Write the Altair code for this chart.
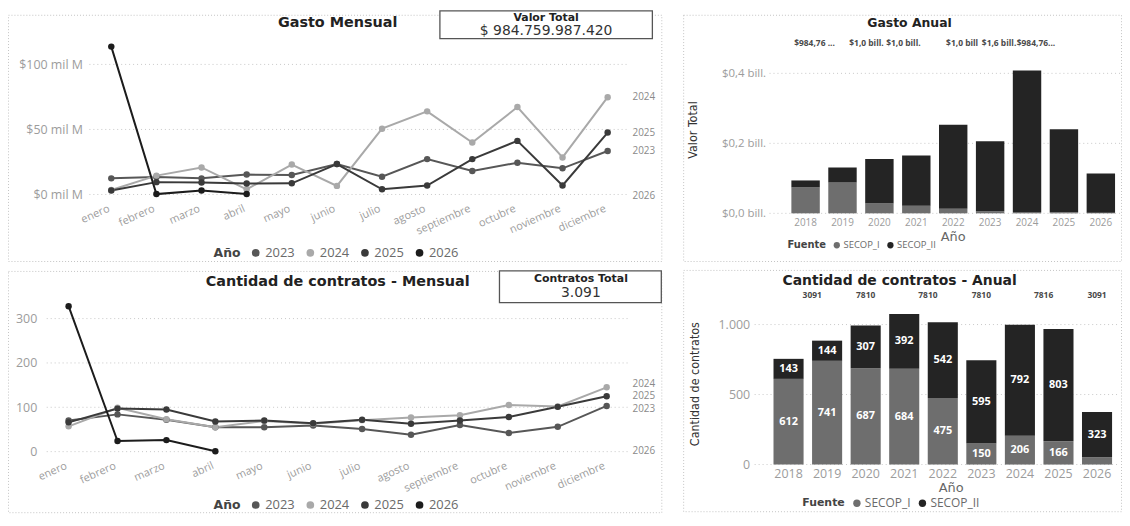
import altair as alt
import pandas as pd

# ---------------- data ----------------
meses = ["enero", "febrero", "marzo", "abril", "mayo", "junio", "julio",
         "agosto", "septiembre", "octubre", "noviembre", "diciembre"]
anios_linea = ["2023", "2024", "2025", "2026"]

# Gasto mensual (mil M)
gasto_2023 = [12.4, 13.5, 12.4, 15.3, 15.0, 23.4, 13.7, 27.2, 18.1, 24.4, 20.1, 33.4]
gasto_2024 = [3.5, 14.5, 20.8, 4.0, 23.0, 6.6, 50.6, 63.9, 40.0, 67.2, 28.5, 74.8]
gasto_2025 = [3.0, 9.5, 9.2, 8.4, 8.6, 23.4, 4.0, 6.9, 27.2, 41.2, 6.9, 47.6]
gasto_2026 = [113.7, 0.3, 3.0, 0.3]

# Cantidad de contratos mensual
contratos_2023 = [70, 84, 72, 55, 55, 59, 51, 38, 60, 42, 56, 103]
contratos_2024 = [57, 99, 73, 55, 69, 63, 71, 77, 82, 105, 102, 145]
contratos_2025 = [66, 97, 95, 68, 70, 64, 72, 63, 70, 78, 101, 125]
contratos_2026 = [328, 24, 26, 1]

# Anual
anios_barra = ["2018", "2019", "2020", "2021", "2022", "2023", "2024", "2025", "2026"]
fuentes = ["SECOP_I", "SECOP_II"]
gasto_secop_i = [0.074, 0.088, 0.029, 0.022, 0.013, 0.005, 0.004, 0.003, 0.002]
gasto_secop_ii = [0.020, 0.043, 0.126, 0.143, 0.240, 0.201, 0.404, 0.237, 0.112]
contratos_secop_i = [612, 741, 687, 684, 475, 150, 206, 166, 52]
contratos_secop_ii = [143, 144, 307, 392, 542, 595, 792, 803, 323]

etiquetas_gasto_anual = ["$984,76 ...", "$1,0 bill.", "$1,0 bill.", "$1,0 bill", "$1,6 bill.", "$984,76..."]
anios_etiquetas_gasto = ["2018", "2020", "2021", "2022", "2023", "2024"]
etiquetas_contratos_anual = ["3091", "7810", "7810", "7810", "7816", "3091"]
anios_etiquetas_contratos = ["2019", "2020", "2022", "2023", "2025", "2026"]

valor_total = "$ 984.759.987.420"
contratos_total = "3.091"

ticks_gasto_mensual = [0, 50, 100]
ticks_contratos_mensual = [0, 100, 200, 300]
ticks_gasto_anual = [0, 0.2, 0.4]
ticks_contratos_anual = [0, 500, 1000]

colores_anio = ["#575757", "#a9a9a9", "#3a3a3a", "#1c1c1c"]
colores_fuente = ["#6e6e6e", "#242424"]

FONT = "Open Sans"
FONT_B = "DejaVu Sans"
FONT_N = "'Liberation Sans Narrow', 'DejaVu Sans Condensed', 'Liberation Sans', sans-serif"
LABEL_GRAY = "#9c9c9c"

one = pd.DataFrame({"k": [0]})


def txt(text, x, y, size, weight="normal", color="#333333", font=FONT, align="center", angle=0):
    return alt.Chart(one).mark_text(
        text=text, fontSize=size, fontWeight=weight, color=color, font=font,
        align=align, baseline="middle", angle=angle
    ).encode(x=alt.value(x), y=alt.value(y))


def frame(W, H):
    return alt.Chart(one).mark_rect(
        filled=False, stroke="#c4c4c4", strokeWidth=1, strokeDash=[1, 2]
    ).encode(x=alt.value(0.5), x2=alt.value(W - 0.5), y=alt.value(0.5), y2=alt.value(H - 0.5))


def card(x1, x2, y1, y2):
    return alt.Chart(one).mark_rect(
        fill="#ffffff", stroke="#555555", strokeWidth=1.3
    ).encode(x=alt.value(x1), x2=alt.value(x2), y=alt.value(y1), y2=alt.value(y2))


def series_df(series):
    rows = []
    for anio, vals in zip(anios_linea, series):
        for mes, v in zip(meses, vals):
            rows.append({"mes": mes, "anio": anio, "valor": v})
    return pd.DataFrame(rows)


def line_panel(series, ticks, label_expr, W, H, xr, y_dom, y_rng, axis_x, grid_x,
               end_x, end_dy, y_lab_size, leg_x, leg_y, extra):
    df = series_df(series)
    last = pd.DataFrame({"anio": anios_linea, "valor": [v[-1] for v in series]})
    ysc = alt.Scale(domain=y_dom, range=y_rng, nice=False, zero=False)
    xsc = alt.Scale(type="point", domain=meses, range=xr, padding=0.5)
    csc = alt.Scale(domain=anios_linea, range=colores_anio)
    yaxis = alt.Axis(values=ticks, labelExpr=label_expr, offset=-axis_x, grid=False,
                     domain=False, ticks=False, labelPadding=3, title=None,
                     labelFontSize=y_lab_size, labelColor=LABEL_GRAY, labelFont=FONT)
    xaxis = alt.Axis(title=None, labelAngle=336, labelAlign="right", labelBaseline="top",
                     labelOffset=-5, labelPadding=8, offset=-(H - y_rng[0]), domain=False,
                     ticks=False, grid=False, labelFontSize=11, labelColor=LABEL_GRAY,
                     labelFont=FONT, labelOverlap=False, labelFlush=False)
    grid = alt.Chart(pd.DataFrame({"valor": ticks})).mark_rule(
        color="#c8c8c8", strokeDash=[1, 3], strokeWidth=1
    ).encode(
        y=alt.Y("valor:Q", scale=ysc, axis=yaxis),
        x=alt.value(grid_x[0]), x2=alt.value(grid_x[1]))
    layers = [frame(W, H), grid]
    for anio, col in zip(anios_linea, colores_anio):
        layers.append(alt.Chart(df).transform_filter(
            alt.FieldEqualPredicate(field="anio", equal=anio)).mark_line(
            strokeWidth=2, color=col).encode(
            x=alt.X("mes:N", sort=meses, scale=xsc, axis=xaxis),
            y=alt.Y("valor:Q", scale=ysc, axis=yaxis)))
    layers.append(alt.Chart(df).mark_circle(size=42, opacity=1).encode(
        x=alt.X("mes:N", sort=meses, scale=xsc, axis=xaxis),
        y=alt.Y("valor:Q", scale=ysc, axis=yaxis),
        color=alt.Color("anio:N", scale=csc, legend=alt.Legend(
            title="Año", orient="none", legendX=leg_x, legendY=leg_y, direction="horizontal",
            titleOrient="left", titleFont=FONT_B, titleFontWeight="bold", titleFontSize=12.5,
            titleColor="#444444", titlePadding=8, labelFont=FONT, labelFontSize=13,
            labelColor="#6a6a6a", symbolType="circle", symbolSize=60, symbolStrokeWidth=0,
            columnPadding=9, labelOffset=3))))
    for anio in anios_linea:
        layers.append(alt.Chart(last).transform_filter(
            alt.FieldEqualPredicate(field="anio", equal=anio)).mark_text(
            align="left", baseline="middle", fontSize=10, color="#8a8a8a", font=FONT,
            dy=end_dy.get(anio, 0)
        ).encode(x=alt.value(end_x), y=alt.Y("valor:Q", scale=ysc, axis=yaxis), text="anio:N"))
    layers.extend(extra)
    return alt.layer(*layers).properties(width=W, height=H)


def bar_panel(v_i, v_ii, ticks, label_expr, W, H, xr, pad_in, y_dom, y_rng, axis_x, grid_x,
              y_lab_size, x_lab_size, x_lab_pad, leg_x, leg_y, leg_sizes, seg_labels,
              top_labels, top_years, top_y, top_size, top_groups, extra):
    rows = []
    for a, i_, ii_ in zip(anios_barra, v_i, v_ii):
        rows.append({"anio": a, "fuente": fuentes[0], "valor": i_})
        rows.append({"anio": a, "fuente": fuentes[1], "valor": ii_})
    df = pd.DataFrame(rows)
    ysc = alt.Scale(domain=y_dom, range=y_rng, nice=False, zero=False)
    xsc = alt.Scale(type="band", domain=anios_barra, range=xr, paddingInner=pad_in, paddingOuter=0)
    csc = alt.Scale(domain=fuentes, range=colores_fuente)
    yaxis = alt.Axis(values=ticks, labelExpr=label_expr, offset=-axis_x, grid=False,
                     domain=False, ticks=False, labelPadding=3, title=None,
                     labelFontSize=y_lab_size, labelColor=LABEL_GRAY, labelFont=FONT)
    xaxis = alt.Axis(title=None, labelAngle=0, labelPadding=x_lab_pad, offset=-(H - y_rng[0]),
                     domain=False, ticks=False, grid=False, labelFontSize=x_lab_size,
                     labelColor=LABEL_GRAY, labelFont=FONT, labelBaseline="top")
    grid = alt.Chart(pd.DataFrame({"valor": ticks})).mark_rule(
        color="#c8c8c8", strokeDash=[1, 3], strokeWidth=1
    ).encode(
        y=alt.Y("valor:Q", scale=ysc, axis=yaxis),
        x=alt.value(grid_x[0]), x2=alt.value(grid_x[1]))
    base = alt.Chart(df).transform_stack(
        stack="valor", groupby=["anio"], as_=["y0", "y1"],
        sort=[alt.SortField("fuente", order="ascending")])
    bars = base.mark_bar().encode(
        x=alt.X("anio:N", scale=xsc, axis=xaxis),
        y=alt.Y("y1:Q", scale=ysc, axis=yaxis),
        y2="y0:Q",
        color=alt.Color("fuente:N", scale=csc, legend=alt.Legend(
            title="Fuente", orient="none", legendX=leg_x, legendY=leg_y, direction="horizontal",
            titleOrient="left", titleFont=FONT_B, titleFontWeight="bold",
            titleFontSize=leg_sizes[0], titleColor="#444444", titlePadding=6, labelFont=FONT,
            labelFontSize=leg_sizes[1], labelColor="#6a6a6a", symbolType="circle",
            symbolSize=leg_sizes[2], symbolStrokeWidth=0, columnPadding=6, labelOffset=2)))
    layers = [frame(W, H), grid, bars]
    if seg_labels:
        layers.append(base.transform_calculate(mid="(datum.y0 + datum.y1) / 2").transform_filter(
            "datum.valor >= 100").mark_text(
            color="#ffffff", fontWeight="bold", fontSize=11, font=FONT, baseline="middle"
        ).encode(x=alt.X("anio:N", scale=xsc, axis=xaxis),
                 y=alt.Y("mid:Q", scale=ysc, axis=yaxis), text="valor:Q"))
    tdf = pd.DataFrame({"anio": top_years, "etiqueta": top_labels})
    for yrs, dx in top_groups:
        layers.append(alt.Chart(tdf).transform_filter(
            alt.FieldOneOfPredicate(field="anio", oneOf=yrs)).mark_text(
            fontSize=top_size, fontWeight="bold", color="#4a4a4a", font=FONT, dx=dx,
            baseline="middle"
        ).encode(x=alt.X("anio:N", scale=xsc, axis=xaxis), y=alt.value(top_y), text="etiqueta:N"))
    layers.extend(extra)
    return alt.layer(*layers).properties(width=W, height=H)


# ---------------- panels ----------------
TL = line_panel(
    [gasto_2023, gasto_2024, gasto_2025, gasto_2026], ticks_gasto_mensual,
    "'$' + datum.value + ' mil M'", 659, 249, [81.3, 626.7], [0, 100], [181, 50],
    78, [82, 625], 629, {"2026": 2}, 12.5, 207, 233,
    [txt("Gasto Mensual", 332, 8, 14.5, "bold", "#222222", FONT_B),
     card(435, 649, -4, 24),
     txt("Valor Total", 542, 3.5, 11, "bold", "#222222", FONT_B),
     txt(valor_total, 542, 16.5, 14, "normal", "#333333", FONT_B)])

BL = line_panel(
    [contratos_2023, contratos_2024, contratos_2025, contratos_2026], ticks_contratos_mensual,
    "datum.value", 659, 244, [36.4, 627.6], [0, 300], [182, 48],
    32, [39, 625], 629, {"2024": -3, "2023": 3}, 12.5, 207, 229,
    [txt("Cantidad de contratos - Mensual", 332, 11, 14.5, "bold", "#222222", FONT_B),
     card(495, 658, 0, 32),
     txt("Contratos Total", 577, 8.5, 11, "bold", "#222222", FONT_B),
     txt(contratos_total, 577, 22.5, 14, "normal", "#333333", FONT_B)])

TR = bar_panel(
    gasto_secop_i, gasto_secop_ii, ticks_gasto_anual,
    "'$' + replace(format(datum.value, '.1f'), '.', ',') + ' bill.'",
    442, 249, [109, 435], 0.23, [0, 0.4], [200, 59], 86, [87, 440],
    11.5, 10, 4, 105, 227, (10, 9.5, 40), False,
    etiquetas_gasto_anual, anios_etiquetas_gasto, 28, 8.5,
    [(["2020", "2021"], -13), (["2018", "2022", "2023", "2024"], 9)],
    [txt("Gasto Anual", 228, 8, 12.5, "bold", "#222222", FONT_B),
     txt("Año", 272, 224, 13, "normal", "#666666", FONT_B),
     txt("Valor Total", 10, 116, 12.5, "normal", "#333333", FONT_N, angle=270)])

BR = bar_panel(
    contratos_secop_i, contratos_secop_ii, ticks_contratos_anual,
    "replace(format(datum.value, ','), ',', '.')",
    442, 244, [91, 432], 0.22, [0, 1000], [196, 55], 70, [72, 440],
    12.5, 12.5, 3, 120, 229, (11, 12, 55), True,
    etiquetas_contratos_anual, anios_etiquetas_contratos, 25, 8.5,
    [(["2019", "2022", "2025"], -15), (["2020", "2023", "2026"], 0)],
    [txt("Cantidad de contratos - Anual", 218, 11, 14, "bold", "#222222", FONT_B),
     txt("Año", 270, 220, 13, "normal", "#666666", FONT_B),
     txt("Cantidad de contratos", 12, 115, 12.5, "normal", "#333333", FONT_N, angle=270)])

chart = alt.concat(
    TL, TR, BL, BR, columns=2, spacing={"row": 8, "column": 21}
).resolve_scale(
    color="independent"
).resolve_legend(
    color="independent"
).properties(
    padding=0, align="none", bounds="full"
).configure(
    background="#ffffff"
).configure_view(
    strokeWidth=0
).configure_axis(
    minExtent=0
)

chart.save("out.html", embed_options={"renderer": "svg", "actions": False})
